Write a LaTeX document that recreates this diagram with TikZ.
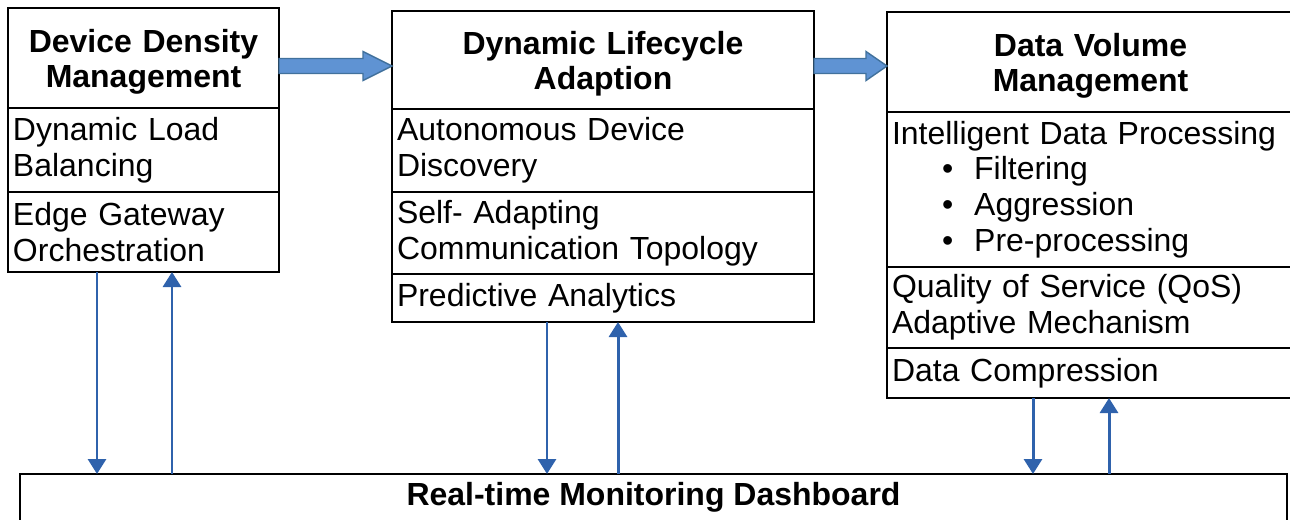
\documentclass[tikz,border=0pt]{standalone}
\usepackage{fontspec}
\setmainfont{Liberation Sans}
\usetikzlibrary{arrows.meta,calc}

\definecolor{flowblue}{HTML}{2F62AC}
\definecolor{fatfill}{HTML}{5F93D3}
\definecolor{fatline}{HTML}{41719C}

\newcommand{\itm}[1]{\hspace*{1cm}\textbullet\hspace{0.42cm}#1}

\tikzset{
	cell/.style={draw, line width=1.3pt, anchor=north west, inner xsep=0.1cm, inner ysep=0pt, outer sep=0pt, align=left, font=\fontsize{18.2}{20.3}\selectfont},
	head/.style={cell, align=center, font=\fontsize{18.2}{19.8}\selectfont\bfseries, execute at begin node={\rule{0pt}{0.62cm}}},
	flow/.style={draw=flowblue, line width=1.7pt, -{Triangle[width=0.36cm,length=0.3cm]}},
	fatarrow/.style={draw=fatline, fill=fatfill, line width=0.8pt},
}

\begin{document}
\begin{tikzpicture}[y=-1cm]
		\clip (0,0) rectangle (25.8,10.38);
		% device density
		\node[head, text width=5.22cm, minimum height=2.0cm] (ddm) at (0.16,0.16) {Device Density\\Management};
		\node[cell, text width=5.22cm, minimum height=1.68cm] (ddm1) at (0.16,2.16) {Dynamic Load\\Balancing};
		\node[cell, text width=5.22cm, minimum height=1.6cm] (ddm2) at (0.16,3.84) {Edge Gateway\\Orchestration};
		% lifecycle
		\node[head, text width=8.24cm, minimum height=1.96cm] (dla) at (7.84,0.22) {Dynamic Lifecycle\\Adaption};
		\node[cell, text width=8.24cm, minimum height=1.66cm] (dla1) at (7.84,2.18) {Autonomous Device\\Discovery};
		\node[cell, text width=8.24cm, minimum height=1.64cm] (dla2) at (7.84,3.84) {Self- Adapting\\Communication Topology};
		\node[cell, text width=8.24cm, minimum height=0.96cm] (dla3) at (7.84,5.48) {Predictive Analytics};
		% data volume
		\node[head, text width=7.94cm, minimum height=2.0cm] (dvm) at (17.74,0.24) {Data Volume\\Management};
		\node[cell, text width=7.94cm, minimum height=3.1cm] (dvm1) at (17.74,2.24) {Intelligent Data Processing\\\itm{Filtering}\\\itm{Aggression}\\\itm{Pre-processing}};
		\node[cell, text width=7.94cm, minimum height=1.62cm] (dvm2) at (17.74,5.34) {Quality of Service (QoS)\\Adaptive Mechanism};
		\node[cell, text width=7.94cm, minimum height=1.0cm] (dvm3) at (17.74,6.96) {Data Compression};
		% dashboard
		\node[head, anchor=north, minimum width=25.34cm, text height=0.62cm, text depth=0.6cm] (dash) at (13.07,9.48) {Real-time Monitoring Dashboard};

		% block arrows
		\coordinate (a1) at (ddm.east |- 0,1.32);
		\coordinate (b1) at (dla.west |- 0,1.32);
		\coordinate (a2) at (dla.east |- 0,1.32);
		\coordinate (b2) at (dvm.west |- 0,1.32);
		\draw[fatarrow] ($(a1)+(0,-0.15)$) -- ($(b1)+(-0.58,-0.15)$) -- ($(b1)+(-0.58,-0.29)$) -- (b1) -- ($(b1)+(-0.58,0.29)$) -- ($(b1)+(-0.58,0.15)$) -- ($(a1)+(0,0.15)$) -- cycle;
		\draw[fatarrow] ($(a2)+(0,-0.15)$) -- ($(b2)+(-0.42,-0.15)$) -- ($(b2)+(-0.42,-0.29)$) -- (b2) -- ($(b2)+(-0.42,0.29)$) -- ($(b2)+(-0.42,0.15)$) -- ($(a2)+(0,0.15)$) -- cycle;

		% to and from the dashboard
		\draw[flow] (ddm2.south -| 1.94,0) -- (dash.north -| 1.94,0);
		\draw[flow] (dash.north -| 3.44,0) -- (ddm2.south -| 3.44,0);
		\draw[flow] (dla3.south -| 10.94,0) -- (dash.north -| 10.94,0);
		\draw[flow] (dash.north -| 12.36,0) -- (dla3.south -| 12.36,0);
		\draw[flow] (dvm3.south -| 20.66,0) -- (dash.north -| 20.66,0);
		\draw[flow] (dash.north -| 22.18,0) -- (dvm3.south -| 22.18,0);
	\end{tikzpicture}
\end{document}
